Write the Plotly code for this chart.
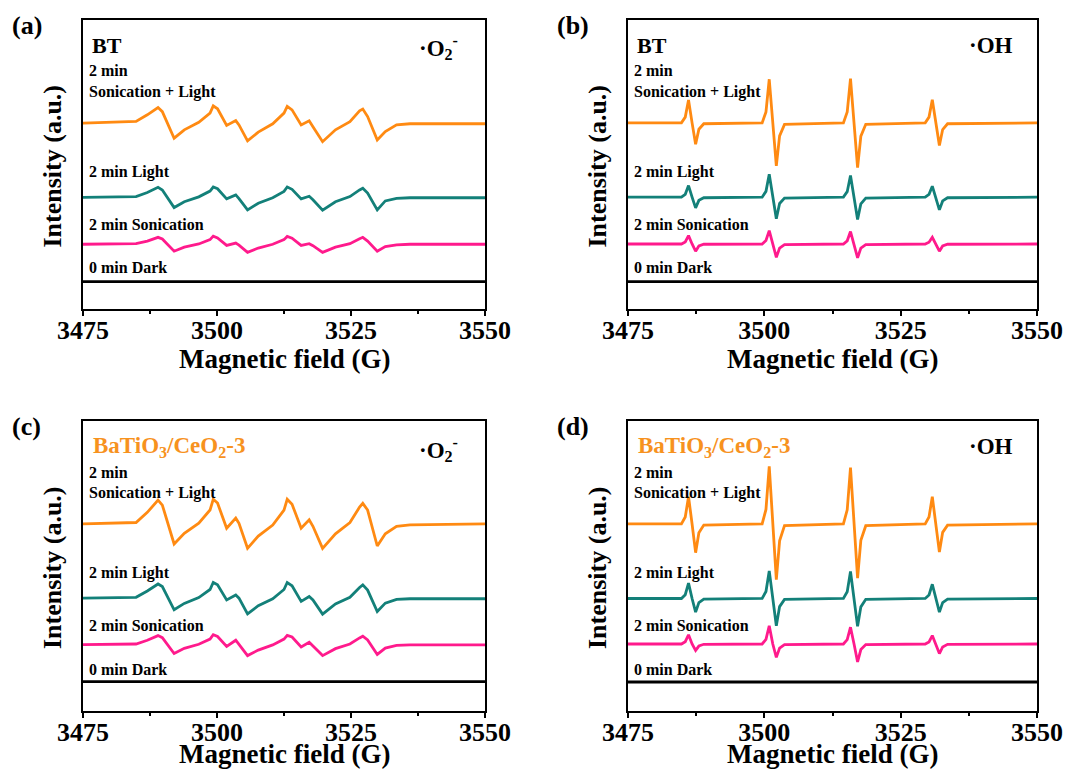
import plotly.graph_objects as go

# ---------------- data ----------------
# field positions of the read-off points for the O2- (DMPO-OOH) spectra
FIELD_O2 = [3475, 3484.9, 3487.0, 3489.0, 3489.8, 3492.0, 3493.9, 3496.6, 3498.7, 3499.3,
            3500.1, 3501.8, 3503.5, 3504.1, 3505.7, 3507.7, 3510.4, 3512.5, 3513.1, 3514.0,
            3515.7, 3517.2, 3517.9, 3519.7, 3522.1, 3524.8, 3526.6, 3527.2, 3528.1, 3529.9,
            3531.4, 3533.5, 3536.0, 3550]

# (a) BT, O2-
A_SON_LIGHT = [0, 0.6, 2.9, 5.4, 4.0, -5.2, -2.3, 0.3, 3.5, 6.0, 5.0, -0.8, 0.9, -0.6, -6.1, -3.1, -0.2,
               3.5, 5.8, 4.6, -0.6, 0.8, -1.2, -6.4, -2.3, 0.5, 4.3, 4.9, 2.3, -5.8, -2.9, -0.6, -0.2, -0.2]
A_LIGHT = [0, 0.3, 1.7, 3.5, 2.6, -3.5, -1.5, 0.2, 2.2, 3.6, 3.0, -0.5, 0.9, -0.4, -4.3, -2.0, -0.1,
           2.1, 3.6, 2.8, -0.5, 0.4, -0.8, -4.4, -1.5, 0.3, 2.6, 3.2, 1.5, -4.3, -1.2, -0.3, -0.1, -0.1]
A_SON = [0, 0.2, 1.1, 2.4, 1.8, -2.4, -1.0, 0.1, 1.6, 2.8, 2.2, -0.4, 0.4, -0.3, -2.8, -1.3, 0,
         1.6, 2.7, 2.1, -0.4, 0.2, -0.5, -2.8, -1.0, 0.2, 1.9, 2.4, 1.1, -2.4, -0.8, -0.2, 0, 0]

# (c) BaTiO3/CeO2-3, O2-
C_SON_LIGHT = [0, 0.5, 4.0, 8.2, 6.5, -6.9, -3.2, 0.3, 4.8, 8.5, 7.2, -1.5, 2.0, 0.2, -8.4, -4.2, -0.4,
               4.8, 8.5, 6.8, -1.5, 1.4, -0.8, -8.4, -3.4, 0.5, 5.8, 7.1, 4.8, -7.6, -3.4, -0.8, -0.3, 0]
C_LIGHT = [0, 0.3, 2.5, 4.9, 4.0, -4.0, -1.8, 0.2, 3.0, 5.4, 4.6, -0.6, 1.1, 0, -5.4, -2.6, -0.2,
           3.0, 5.4, 4.3, -1.1, 0.6, -0.6, -5.5, -2.0, 0.3, 3.7, 4.6, 2.8, -4.6, -1.7, -0.4, -0.2, -0.2]
C_SON = [0, 0.2, 1.5, 3.1, 2.4, -3.1, -1.3, 0.1, 1.9, 3.4, 2.8, -0.6, 1.5, 0, -3.8, -1.9, -0.1,
         1.9, 3.2, 2.6, -0.8, 0.8, -0.4, -3.8, -1.4, 0.2, 2.3, 2.9, 1.6, -3.4, -1.2, -0.3, -0.1, -0.1]

# field positions of the read-off points for the OH (DMPO-OH) spectra
FIELD_OH = [3475,
            3484.8, 3485.5, 3486.1, 3486.75, 3487.4, 3488.0, 3488.9,
            3499.6, 3500.3, 3500.9, 3501.55, 3502.2, 3502.8, 3503.7,
            3514.5, 3515.2, 3515.8, 3516.45, 3517.1, 3517.7, 3518.6,
            3529.5, 3530.2, 3530.8, 3531.45, 3532.1, 3532.7, 3533.6,
            3550]

# (b) BT, OH
B_SON_LIGHT = [0, 0, 2.0, 7.9, 0, -7.4, -2.2, -0.3, 0, 3.8, 15.1, 0, -14.9, -4.5, -0.5,
               0, 3.8, 15.3, 0, -15.5, -4.6, -0.5, 0, 2.0, 8.0, 0, -7.8, -2.3, -0.3, 0]
B_LIGHT = [0, 0, 1.0, 4.0, 0, -3.7, -1.1, -0.2, 0, 2.0, 7.9, 0, -7.5, -2.2, -0.3,
           0, 1.9, 7.5, 0, -7.7, -2.3, -0.3, 0, 1.0, 3.8, 0, -4.4, -1.3, -0.2, 0]
B_SON = [0, 0, 0.7, 2.9, 0, -2.5, -0.7, -0.1, 0, 1.2, 4.6, 0, -4.6, -1.4, -0.2,
         0, 1.1, 4.3, 0, -4.8, -1.4, -0.2, 0, 0.6, 2.3, 0, -2.5, -0.7, -0.1, 0]

# (d) BaTiO3/CeO2-3, OH
D_SON_LIGHT = [0, 0, 2.4, 9.4, 0, -9.9, -3.0, -0.4, 0, 5.0, 19.9, 0, -19.2, -5.8, -0.6,
               0, 4.9, 19.4, 0, -18.7, -5.6, -0.6, 0, 2.4, 9.4, 0, -9.7, -2.9, -0.4, 0]
D_LIGHT = [0, 0, 1.3, 5.3, 0, -4.7, -1.4, -0.2, 0, 2.4, 9.5, 0, -9.4, -2.8, -0.3,
           0, 2.3, 9.3, 0, -9.6, -2.9, -0.3, 0, 1.2, 4.9, 0, -4.7, -1.4, -0.2, 0]
D_SON = [0, 0, 0.8, 3.2, 0, -2.2, -0.7, -0.1, 0, 1.6, 6.3, 0, -4.6, -1.4, -0.2,
         0, 1.5, 5.8, 0, -6.2, -1.9, -0.2, 0, 0.7, 2.9, 0, -3.3, -1.0, -0.1, 0]

# 0 min dark: flat
FIELD_DARK = [3475, 3550]
DARK = [0, 0]

SERIES_NAMES = ["2 min Sonication + Light", "2 min Light", "2 min Sonication", "0 min Dark"]
X_TICKS = [3475, 3500, 3525, 3550]

# ---------------- styling / layout ----------------
OFF = 8                      # page body margin
W, H = 1073 - 2 * OFF, 777 - 2 * OFF
COLORS = ["#FF8A12", "#138079", "#FF1A8C", "#000000"]
FONT = "Liberation Serif, Times New Roman, serif"

# vertical stacking baselines (axis units 0..100)
BASE = {
    "a": [64.3, 38.6, 22.4, 9.5],
    "b": [64.4, 38.7, 22.5, 9.5],
    "c": [64.5, 38.9, 22.9, 10.1],
    "d": [64.5, 38.8, 23.1, 10.0],
}

panels = {
    "a": dict(field=FIELD_O2, data=[A_SON_LIGHT, A_LIGHT, A_SON], xd=(83, 485), yd=(20, 309), tt=359),
    "b": dict(field=FIELD_OH, data=[B_SON_LIGHT, B_LIGHT, B_SON], xd=(628, 1037), yd=(20, 309), tt=359),
    "c": dict(field=FIELD_O2, data=[C_SON_LIGHT, C_LIGHT, C_SON], xd=(83, 485), yd=(421, 711), tt=754),
    "d": dict(field=FIELD_OH, data=[D_SON_LIGHT, D_LIGHT, D_SON], xd=(628, 1037), yd=(421, 711), tt=754),
}

fig = go.Figure()
layout = dict(width=W, height=H, margin=dict(l=0, r=0, t=0, b=0, autoexpand=False),
              paper_bgcolor="white", plot_bgcolor="white", showlegend=False)

annotations = []


def px(x):
    return (x - OFF) / W


def py(y):
    return 1 - (y - OFF) / H


def ann(text, x, y, size, color="black", xanchor="left", yanchor="middle", angle=0):
    annotations.append(dict(text=text, x=px(x), y=py(y), xref="paper", yref="paper",
                            showarrow=False, xanchor=xanchor, yanchor=yanchor, textangle=angle,
                            font=dict(family=FONT, size=size, color=color, weight="bold")))


for i, (key, p) in enumerate(panels.items()):
    n = i + 1
    xa = "x" if n == 1 else f"x{n}"
    ya = "y" if n == 1 else f"y{n}"
    base = BASE[key]
    for s in range(3):
        fig.add_trace(go.Scatter(x=p["field"], y=[v + base[s] for v in p["data"][s]],
                                 mode="lines", line=dict(color=COLORS[s], width=2.8),
                                 name=SERIES_NAMES[s], xaxis=xa, yaxis=ya))
    fig.add_trace(go.Scatter(x=FIELD_DARK, y=[v + base[3] for v in DARK], mode="lines",
                             line=dict(color=COLORS[3], width=2.8), name=SERIES_NAMES[3],
                             xaxis=xa, yaxis=ya))
    x0, x1 = p["xd"]
    y0, y1 = p["yd"]
    layout["xaxis" if n == 1 else f"xaxis{n}"] = dict(
        domain=[px(x0), px(x1)], anchor=ya, range=[3475, 3550], automargin=False,
        showline=True, mirror=True, linecolor="black", linewidth=2,
        ticks="outside", ticklen=5, tickwidth=2, tickcolor="black",
        tickvals=X_TICKS, showgrid=False, zeroline=False, ticklabelstandoff=-8,
        tickfont=dict(family=FONT, size=26, color="black", weight="bold"),
        minor=dict(ticks="outside", ticklen=3, tickwidth=1.5, tickcolor="black",
                   dtick=12.5, tick0=3475, showgrid=False))
    layout["yaxis" if n == 1 else f"yaxis{n}"] = dict(
        domain=[py(y1), py(y0)], anchor=xa, range=[0, 100], automargin=False,
        showline=True, mirror=True, linecolor="black", linewidth=2,
        ticks="", showticklabels=False, showgrid=False, zeroline=False)

    # axis titles
    ann("Magnetic field (G)", (x0 + x1) / 2, p["tt"], 27, xanchor="center")
    ann("Intensity (a.u.)", x0 - 31, (y0 + y1) / 2 + 2, 26, xanchor="center", angle=-90)
    # panel label
    ann(f"({key})", x0 - 73, y0 + 6, 26)
    # series labels
    ann("2 min", x0 + 4, y0 + 51, 16)
    ann("Sonication + Light", x0 + 4, y0 + 72, 16)
    ann("2 min Light", x0 + 4, y0 + 152, 16)
    ann("2 min Sonication", x0 + 4, y0 + 204, 16)
    ann("0 min Dark", x0 + 4, y0 + 248, 16)
    # sample label
    if key in ("a", "b"):
        ann("BT", x0 + 7, y0 + 25, 22)
    else:
        ann("BaTiO<sub>3</sub>/CeO<sub>2</sub>-3", x0 + 8, y0 + 26, 23, color="#F7921E")
    # radical label
    if key in ("a", "c"):
        ann("·O<sub>2</sub><sup>-</sup>", x1 - 25, y0 + 28, 23, xanchor="right")
    else:
        ann("·OH", x1 - 22, y0 + 25, 23, xanchor="right")

layout["annotations"] = annotations
fig.update_layout(**layout)
fig.write_html("out.html")
